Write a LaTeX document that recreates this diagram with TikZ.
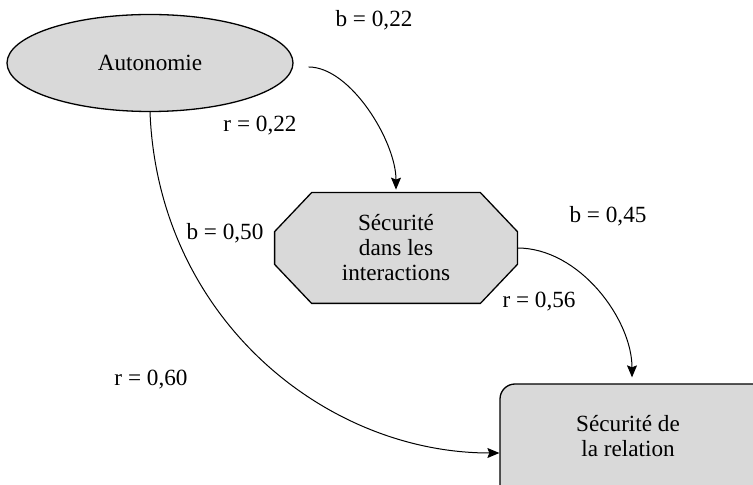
\documentclass[tikz,border=0pt]{standalone}
\usepackage{fontspec}
\setmainfont{Liberation Serif}
\usetikzlibrary{arrows.meta,shapes.geometric}
\definecolor{boxgray}{HTML}{D9D9D9}
\tikzset{
  every node/.style={font=\fontsize{11.6}{12.5}\selectfont},
  nodeline/.style={draw=black, line width=0.65pt, fill=boxgray},
  conn/.style={line width=0.5pt, -{Stealth[length=6pt,width=5pt,inset=1pt]}},
  coef/.style={inner sep=0pt}
}
\begin{document}
\begin{tikzpicture}[x=0.5pt,y=-0.5pt]
\useasboundingbox (0,0) rectangle (753,485);
\clip (0,0) rectangle (753,485);
% Autonomie
\node[nodeline, ellipse, minimum width=143pt, minimum height=48.5pt, inner sep=0pt] (auto) at (150,63) {Autonomie};
% Securite dans les interactions (octagon)
\node[minimum width=121pt, minimum height=55pt, inner sep=0pt] (oct) at (396,248) {};
\filldraw[nodeline]
  ([xshift=18.5pt]oct.north west) -- ([xshift=-18.5pt]oct.north east)
  -- ([yshift=-19.5pt]oct.north east) -- ([yshift=19.5pt]oct.south east)
  -- ([xshift=-18.5pt]oct.south east) -- ([xshift=18.5pt]oct.south west)
  -- ([yshift=19.5pt]oct.south west) -- ([yshift=-19.5pt]oct.north west) -- cycle;
\node[align=center] (octtext) at (oct.center) {Sécurité\\dans les\\interactions};
% Securite de la relation (extends past the picture's edge)
\node[nodeline, rounded corners=7.5pt, minimum width=150pt, minimum height=60pt, inner sep=0pt] (rel) at (650,444) {};
\node[align=center] (reltext) at (628,436) {Sécurité de\\la relation};
% connectors
\draw[conn] ([xshift=7.5pt,yshift=-2pt]auto.east) .. controls +(42,0) and +(0,-48) .. ([yshift=1.5pt]oct.north);
\draw[conn] (oct.east) .. controls +(62,0) and +(0,-58) .. ([xshift=-9pt,yshift=3pt]rel.north);
\draw[conn] (auto.south) .. controls +(8,205) and +(-175,0) .. ([yshift=-4.5pt]rel.west);
% coefficients
\node[coef] (b1) at (374,20) {b = 0,22};
\node[coef] (r1) at (260,126) {r = 0,22};
\node[coef] (b2) at (225,233) {b = 0,50};
\node[coef] (b3) at (608,216) {b = 0,45};
\node[coef] (r3) at (539,302) {r = 0,56};
\node[coef] (r2) at (151,380) {r = 0,60};
\end{tikzpicture}
\end{document}
